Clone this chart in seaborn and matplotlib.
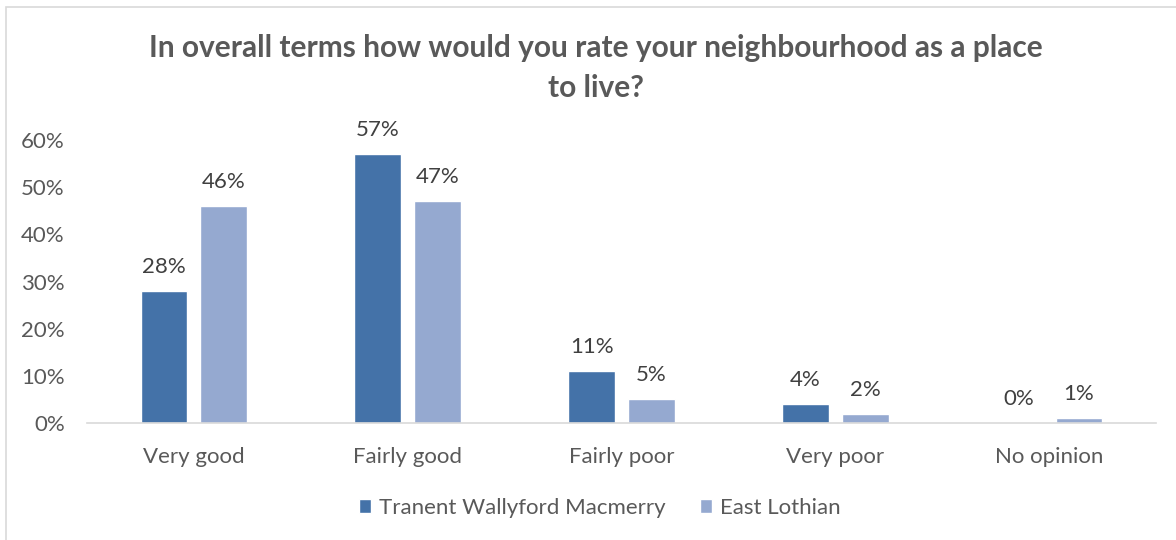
import matplotlib
matplotlib.use("Agg")
import matplotlib.pyplot as plt
from matplotlib.patches import Rectangle
import seaborn as sns
import pandas as pd

# Survey responses (share of respondents)
categories = ["Very good", "Fairly good", "Fairly poor", "Very poor", "No opinion"]
series_names = ["Tranent Wallyford Macmerry", "East Lothian"]
tranent_values = [0.28, 0.57, 0.11, 0.04, 0.00]
east_lothian_values = [0.46, 0.47, 0.05, 0.02, 0.01]
y_ticks = [0.0, 0.1, 0.2, 0.3, 0.4, 0.5, 0.6]
title_text = "In overall terms how would you rate your neighbourhood as a place\nto live?"

colors = ["#4472A8", "#95A9D0"]
text_grey = "#595959"
label_grey = "#404040"

df = pd.DataFrame({
    "category": categories * 2,
    "series": [series_names[0]] * len(categories) + [series_names[1]] * len(categories),
    "value": tranent_values + east_lothian_values,
})

sns.set_theme(style="white")
plt.rcParams["font.family"] = ["Lato", "DejaVu Sans"]

fig = plt.figure(figsize=(11.76, 5.4), dpi=100)
ax = fig.add_axes([87 / 1176, 1 - 423 / 540, (1156 - 87) / 1176, (423 - 140) / 540])

sns.barplot(data=df, x="category", y="value", hue="series", order=categories,
            hue_order=series_names, palette=colors, width=0.56, gap=0.22,
            saturation=1, ax=ax, legend=True)

ax.set_ylim(0, 0.6)
ax.set_xlim(-0.5, len(categories) - 0.5)
ax.set_yticks(y_ticks)
ax.set_yticklabels([f"{int(round(t * 100))}%" for t in y_ticks])
ax.set_xlabel("")
ax.set_ylabel("")
ax.tick_params(axis="y", length=0, pad=16, labelsize=16, labelcolor=text_grey)
ax.tick_params(axis="x", length=0, pad=17, labelsize=16, labelcolor=text_grey)

for side in ["top", "right", "left"]:
    ax.spines[side].set_visible(False)
ax.spines["bottom"].set_color("#D9D9D9")
ax.spines["bottom"].set_linewidth(1.2)

# Value labels above each bar
for container in ax.containers:
    for bar in container:
        h = bar.get_height()
        ax.annotate(f"{int(round(h * 100))}%",
                    xy=(bar.get_x() + bar.get_width() / 2, h),
                    xytext=(0, 13), textcoords="offset points",
                    ha="center", va="baseline", fontsize=16,
                    color=label_grey, annotation_clip=False)

fig.text(596 / 1176, 1 - 68 / 540, title_text, ha="center", va="center",
         fontsize=21.5, fontweight="bold", color=text_grey, linespacing=1.5)

handles, labels = ax.get_legend_handles_labels()
ax.get_legend().remove()
fig.legend(handles, labels, loc="center", bbox_to_anchor=(600 / 1176, 1 - 508 / 540),
           ncol=2, frameon=False, fontsize=16, labelcolor=text_grey,
           handlelength=0.55, handleheight=0.55, handletextpad=0.35, columnspacing=1.55)

# Chart area frame
fig.patches.append(Rectangle((6 / 1176, -0.1), 1.2, 1 - 7 / 540 + 0.1,
                             transform=fig.transFigure, fill=False,
                             edgecolor="#D9D9D9", linewidth=1.2))

fig.savefig("out.png", dpi=100)
